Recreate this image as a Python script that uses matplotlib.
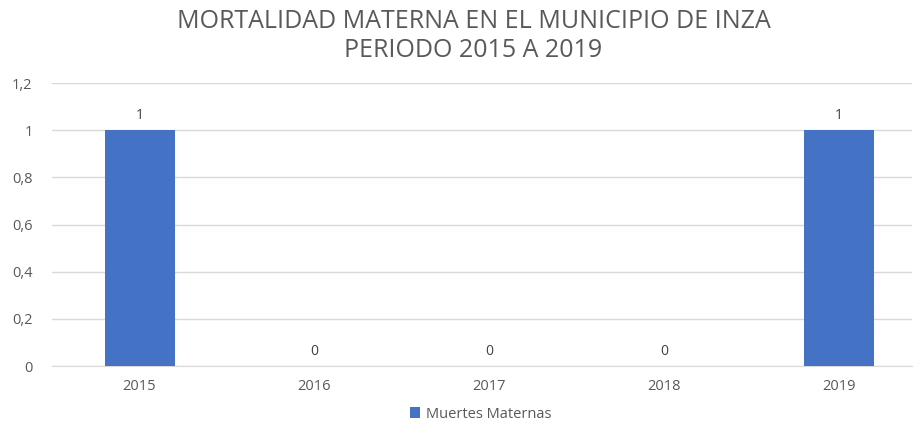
import numpy as np
import matplotlib.pyplot as plt

plt.rcParams['font.family'] = ['Open Sans', 'DejaVu Sans']

# datos
anios = ['2015', '2016', '2017', '2018', '2019']
muertes = [1, 0, 0, 0, 1]
yticks = [0, 0.2, 0.4, 0.6, 0.8, 1.0, 1.2]
ytick_labels = ['0', '0,2', '0,4', '0,6', '0,8', '1', '1,2']

gris = '#595959'
azul = '#4472C4'

fig = plt.figure(figsize=(9.14, 4.22), dpi=100)
ax = fig.add_axes([0.057, 0.1327, 0.941, 0.6706])

x = np.arange(len(anios))
barras = ax.bar(x, muertes, width=0.4, color=azul, label='Muertes Maternas', zorder=3)
for xi, v in zip(x, muertes):
    ax.text(xi, v + 0.03, str(v), ha='center', va='bottom', fontsize=10, color='#404040')

ax.set_xlim(-0.5, 4.417)
ax.set_ylim(0, 1.2)
ax.set_yticks(yticks)
ax.set_yticklabels(ytick_labels)
ax.set_xticks(x)
ax.set_xticklabels(anios)
ax.tick_params(axis='both', length=0, labelsize=10.5, colors=gris)
ax.tick_params(axis='y', pad=14)
ax.tick_params(axis='x', pad=9)
ax.grid(axis='y', color='#D9D9D9', linewidth=1, zorder=0)
for s in ['top', 'right', 'left']:
    ax.spines[s].set_visible(False)
ax.spines['bottom'].set_color('#D9D9D9')

fig.text(0.518, 0.978, 'MORTALIDAD MATERNA EN EL MUNICIPIO DE INZA\nPERIODO 2015 A 2019',
         ha='center', va='top', fontsize=18, color=gris, linespacing=1.2)

fig.legend(loc='lower center', bbox_to_anchor=(0.526, -0.03), frameon=False,
           fontsize=10.5, labelcolor=gris, handlelength=0.7, handleheight=0.7,
           handletextpad=0.4)

plt.savefig('out.png', dpi=100)
